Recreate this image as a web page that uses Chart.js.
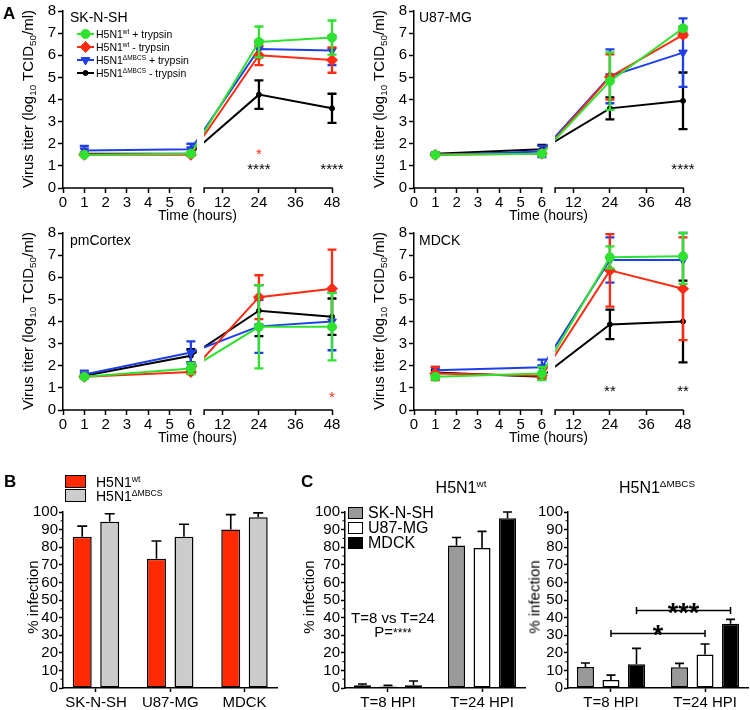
<!DOCTYPE html>
<html>
<head>
<meta charset="utf-8">
<title>H5N1 replication and infection</title>
<script src="https://cdn.jsdelivr.net/npm/chart.js@4.4.1/dist/chart.umd.min.js"></script>
<style>
  html,body{margin:0;padding:0;background:#fff;}
  #fig{position:relative;width:750px;height:710px;overflow:hidden;background:#fff;font-family:"Liberation Sans",Arial,Helvetica,sans-serif;color:#000;}
  #fig canvas{position:absolute;}
  .t{position:absolute;white-space:nowrap;line-height:1;}
  .rot{transform:translate(-50%,-50%) rotate(-90deg);}
  .ctr{transform:translate(-50%,-50%);}
  .vc{transform:translateY(-50%);}
  sub{font-size:66%;position:relative;top:0.32em;vertical-align:baseline;line-height:0;}
  sup{font-size:62%;position:relative;top:-0.62em;vertical-align:baseline;line-height:0;}
  .box{position:absolute;box-sizing:border-box;border:1.5px solid #000;}
  .bold{font-weight:bold;}
</style>
</head>
<body>
<div id="fig">
  <canvas id="cA1" width="360" height="225" style="left:0;top:0"></canvas>
  <canvas id="cA2" width="360" height="225" style="left:351px;top:0"></canvas>
  <canvas id="cA3" width="360" height="225" style="left:0;top:222px"></canvas>
  <canvas id="cA4" width="360" height="225" style="left:351px;top:222px"></canvas>
  <canvas id="cB" width="350" height="220" style="left:0;top:490px"></canvas>
  <canvas id="cC1" width="227" height="220" style="left:300px;top:490px"></canvas>
  <canvas id="cC2" width="227" height="220" style="left:523px;top:490px"></canvas>

  <!-- panel A text -->
  <div class="t bold" style="left:3px;top:5px;font-size:17px">A</div>
  <div class="t vc" style="left:70px;top:17px;font-size:14px">SK-N-SH</div>
  <div class="t vc" style="left:419px;top:17px;font-size:14px">U87-MG</div>
  <div class="t vc" style="left:70px;top:240px;font-size:14px">pmCortex</div>
  <div class="t vc" style="left:419px;top:240px;font-size:14px">MDCK</div>
  <div class="t rot" style="left:27px;top:99px;font-size:15px">Virus titer (log<sub>10</sub> TCID<sub>50</sub>/ml)</div>
  <div class="t rot" style="left:378px;top:99px;font-size:15px">Virus titer (log<sub>10</sub> TCID<sub>50</sub>/ml)</div>
  <div class="t rot" style="left:27px;top:321px;font-size:15px">Virus titer (log<sub>10</sub> TCID<sub>50</sub>/ml)</div>
  <div class="t rot" style="left:378px;top:321px;font-size:15px">Virus titer (log<sub>10</sub> TCID<sub>50</sub>/ml)</div>
  <div class="t vc" style="left:96px;top:34px;font-size:10.5px">H5N1<sup>wt</sup> + trypsin</div>
  <div class="t vc" style="left:96px;top:47px;font-size:10.5px">H5N1<sup>wt</sup> - trypsin</div>
  <div class="t vc" style="left:96px;top:60px;font-size:10.5px">H5N1<sup>ΔMBCS</sup> + trypsin</div>
  <div class="t vc" style="left:96px;top:73px;font-size:10.5px">H5N1<sup>ΔMBCS</sup> - trypsin</div>

  <!-- panel B text -->
  <div class="t bold" style="left:4px;top:473px;font-size:17px">B</div>
  <div class="box" style="left:65px;top:475px;width:21px;height:13px;background:#ff2a00"></div>
  <div class="box" style="left:65px;top:489px;width:21px;height:13px;background:#cccccc"></div>
  <div class="t vc" style="left:96px;top:482px;font-size:14px">H5N1<sup>wt</sup></div>
  <div class="t vc" style="left:96px;top:496px;font-size:14px">H5N1<sup>ΔMBCS</sup></div>
  <div class="t rot" style="left:32px;top:597px;font-size:15px">% infection</div>

  <!-- panel C text -->
  <div class="t bold" style="left:301px;top:473px;font-size:17px">C</div>
  <div class="t ctr" style="left:461px;top:488px;font-size:16px">H5N1<sup>wt</sup></div>
  <div class="t ctr" style="left:657px;top:488px;font-size:16px">H5N1<sup>ΔMBCS</sup></div>
  <div class="t rot" style="left:308px;top:597px;font-size:15px">% infection</div>
  <div class="t rot" style="left:534px;top:597px;font-size:15px">% infection</div>
  <div class="box" style="left:348px;top:507px;width:15px;height:12px;background:#999999"></div>
  <div class="box" style="left:348px;top:522px;width:15px;height:12px;background:#ffffff"></div>
  <div class="box" style="left:348px;top:537px;width:15px;height:12px;background:#000000"></div>
  <div class="t vc" style="left:368px;top:513px;font-size:16px">SK-N-SH</div>
  <div class="t vc" style="left:368px;top:528px;font-size:16px">U87-MG</div>
  <div class="t vc" style="left:368px;top:543px;font-size:16px">MDCK</div>
  <div class="t ctr" style="left:393px;top:617px;font-size:15px">T=8 vs T=24</div>
  <div class="t ctr" style="left:393px;top:631px;font-size:15px">P=<span style="font-size:12px">****</span></div>
</div>

<script>
// ---------------- data ----------------
const hours = [1, 6, 24, 48];
const timeTicks = [0, 1, 2, 3, 4, 5, 6, 12, 24, 36, 48];
const seriesLabels = ['H5N1wt + trypsin', 'H5N1wt - trypsin', 'H5N1ΔMBCS + trypsin', 'H5N1ΔMBCS - trypsin'];

// SK-N-SH
const sknWtTryp     = [1.50, 1.55, 6.60, 6.80];
const sknWtTrypSD   = [0.05, 0.05, 0.70, 0.77];
const sknWtNoTryp   = [1.50, 1.50, 6.00, 5.78];
const sknWtNoTrypSD = [0.05, 0.05, 0.45, 0.57];
const sknMutTryp    = [1.70, 1.75, 6.28, 6.22];
const sknMutTrypSD  = [0.20, 0.25, 0.38, 0.66];
const sknMutNoTryp  = [1.55, 1.55, 4.22, 3.60];
const sknMutNoTrypSD= [0.05, 0.05, 0.64, 0.66];
const sknStars = [[24, 1.68, '*', '#ff2a12'], [24, 1.0, '****', '#000'], [48, 1.0, '****', '#000']];

// U87-MG
const u87WtTryp     = [1.50, 1.55, 4.83, 7.22];
const u87WtTrypSD   = [0.05, 0.05, 1.30, 0.10];
const u87WtNoTryp   = [1.50, 1.55, 5.02, 6.92];
const u87WtNoTrypSD = [0.05, 0.05, 1.02, 0.10];
const u87MutTryp    = [1.50, 1.65, 5.05, 6.12];
const u87MutTrypSD  = [0.05, 0.25, 1.22, 1.55];
const u87MutNoTryp  = [1.55, 1.75, 3.60, 3.94];
const u87MutNoTrypSD= [0.05, 0.20, 0.50, 1.28];
const u87Stars = [[48, 1.0, '****', '#000']];

// pmCortex
const pmcWtTryp     = [1.50, 1.88, 3.76, 3.76];
const pmcWtTrypSD   = [0.05, 0.25, 1.88, 1.52];
const pmcWtNoTryp   = [1.50, 1.72, 5.10, 5.48];
const pmcWtNoTrypSD = [0.05, 0.10, 0.99, 1.77];
const pmcMutTryp    = [1.60, 2.60, 3.78, 4.00];
const pmcMutTrypSD  = [0.18, 0.50, 1.20, 1.30];
const pmcMutNoTryp  = [1.55, 2.45, 4.49, 4.22];
const pmcMutNoTrypSD= [0.05, 0.30, 1.15, 0.82];
const pmcStars = [[48, 0.75, '*', '#ff2a12']];

// MDCK
const mdckWtTryp     = [1.50, 1.65, 6.90, 6.95];
const mdckWtTrypSD   = [0.10, 0.30, 0.50, 1.25];
const mdckWtNoTryp   = [1.65, 1.55, 6.31, 5.48];
const mdckWtNoTrypSD = [0.30, 0.10, 1.64, 2.32];
const mdckMutTryp    = [1.80, 1.93, 6.78, 6.78];
const mdckMutTrypSD  = [0.15, 0.35, 1.02, 1.32];
const mdckMutNoTryp  = [1.70, 1.50, 3.87, 4.00];
const mdckMutNoTrypSD= [0.10, 0.10, 0.67, 1.85];
const mdckStars = [[24, 1.0, '**', '#000'], [48, 1.0, '**', '#000']];

// Panel B
const cellLines = ['SK-N-SH', 'U87-MG', 'MDCK'];
const virusLabels = ['H5N1wt', 'H5N1ΔMBCS'];
const infWt    = [86.0, 73.5, 90.0];
const infWtSD  = [6.0, 10.0, 8.5];
const infMut   = [94.5, 86.0, 97.0];
const infMutSD = [4.5, 7.0, 2.5];

// Panel C
const hpiLabels = ['T=8 HPI', 'T=24 HPI'];
const cWtSK     = [1.5, 81.0];  const cWtSKSD   = [0.8, 4.5];
const cWtU87    = [0.8, 79.5];  const cWtU87SD  = [0.7, 9.5];
const cWtMDCK   = [1.5, 96.5];  const cWtMDCKSD = [2.5, 3.5];
const cMutSK    = [12.0, 11.8]; const cMutSKSD  = [2.2, 2.2];
const cMutU87   = [4.5, 19.0];  const cMutU87SD = [2.8, 6.0];
const cMutMDCK  = [13.5, 36.5]; const cMutMDCKSD= [9.0, 2.5];
const sigDatasets = [1, 2];
const sigLevels = [31, 44];
const sigLabels = ['*', '***'];

// ---------------- styling ----------------
const FONT = "'Liberation Sans', Arial, Helvetica, sans-serif";
const GREEN = '#2fe22f', RED = '#ff2a12', BLUE = '#1f3fe6', BLACK = '#000000';
Chart.defaults.font.family = FONT;
Chart.defaults.color = '#000';
Chart.defaults.animation = false;

const AXIS_GAP = 0.62;      // break between the two time segments (in left-segment hour units)
const RIGHT_COMPRESS = 7;   // right segment hours per left-segment unit

class BrokenTimeScale extends Chart.LinearScale {
  static id = 'brokenTime';
  static defaults = {};
  buildTicks() { return timeTicks.map(v => ({ value: v })); }
  uOf(t) { return t <= 6 ? t : 6 + AXIS_GAP + (t - 6) / RIGHT_COMPRESS; }
  getPixelForValue(value) { return this.getPixelForDecimal(this.uOf(value) / this.uOf(this.max)); }
  getValueForPixel(pixel) {
    const u = this.getDecimalForPixel(pixel) * this.uOf(this.max);
    return u <= 6 ? u : 6 + (u - 6 - AXIS_GAP) * RIGHT_COMPRESS;
  }
  rightStartPixel() { return this.getPixelForDecimal((6 + AXIS_GAP) / this.uOf(this.max)); }
}
Chart.register(BrokenTimeScale);

function drawErrorBars(ctx, meta, yScale, values, errs, color, capHalf, lw, upOnly) {
  ctx.save();
  ctx.strokeStyle = color;
  ctx.lineWidth = lw;
  ctx.lineCap = 'butt';
  meta.data.forEach((el, i) => {
    const v = values[i], e = errs[i];
    const yTop = yScale.getPixelForValue(Math.min(v + e, yScale.max));
    const yBot = upOnly ? el.y : yScale.getPixelForValue(Math.max(v - e, yScale.min));
    ctx.beginPath();
    ctx.moveTo(el.x, yTop); ctx.lineTo(el.x, yBot);
    ctx.moveTo(el.x - capHalf, yTop); ctx.lineTo(el.x + capHalf, yTop);
    if (!upOnly) { ctx.moveTo(el.x - capHalf, yBot); ctx.lineTo(el.x + capHalf, yBot); }
    ctx.stroke();
  });
  ctx.restore();
}

const seriesStyles = [
  { color: GREEN, pointStyle: 'circle',  radius: 4.5, rotation: 0 },
  { color: RED,   pointStyle: 'rectRot', radius: 5.5, rotation: 0 },
  { color: BLUE,  pointStyle: 'triangle',radius: 5,   rotation: 180 },
  { color: BLACK, pointStyle: 'circle',  radius: 2.5, rotation: 0 }
];

function titerPlugin(stars, withLegend) {
  return {
    id: 'titerExtras',
    beforeDatasetsDraw(chart) {
      const xs = chart.scales.x, ctx = chart.ctx;
      const g0 = xs.getPixelForValue(6) + 6, g1 = xs.rightStartPixel();
      ctx.save();
      ctx.beginPath();
      ctx.rect(0, 0, g0, chart.height);
      ctx.rect(g1, 0, chart.width - g1, chart.height);
      ctx.clip();
    },
    beforeDatasetDraw(chart, args) {
      const ds = chart.data.datasets[args.index];
      drawErrorBars(chart.ctx, args.meta, chart.scales.y, ds.data.map(p => p.y), ds.errors, ds.borderColor, 4.5, 2.3, false);
    },
    afterDatasetsDraw(chart) { chart.ctx.restore(); },
    afterDraw(chart) {
      const xs = chart.scales.x, ys = chart.scales.y, ctx = chart.ctx, ca = chart.chartArea;
      const yb = ca.bottom, g1 = xs.rightStartPixel();
      ctx.save();
      ctx.strokeStyle = '#000'; ctx.lineWidth = 1.5;
      ctx.beginPath();
      ctx.moveTo(xs.getPixelForValue(0) - 0.75, yb); ctx.lineTo(xs.getPixelForValue(6) + 0.75, yb);
      ctx.moveTo(g1 - 0.75, yb); ctx.lineTo(xs.getPixelForValue(48) + 0.75, yb);
      ctx.moveTo(g1, yb); ctx.lineTo(g1, yb + 5);
      ctx.stroke();
      ctx.textAlign = 'center'; ctx.textBaseline = 'alphabetic';
      ctx.font = '15px ' + FONT;
      stars.forEach(([h, v, txt, col]) => {
        ctx.fillStyle = col;
        ctx.fillText(txt, xs.getPixelForValue(h), ys.getPixelForValue(v) + 8.5);
      });
      if (withLegend) {
        const rows = [34, 47, 60, 73];
        chart.data.datasets.forEach((ds, k) => {
          const st = seriesStyles[k], y = rows[k];
          ctx.strokeStyle = st.color; ctx.fillStyle = st.color; ctx.lineWidth = 2;
          ctx.beginPath(); ctx.moveTo(77, y); ctx.lineTo(94, y); ctx.stroke();
          ctx.lineWidth = 1;
          Chart.helpers.drawPoint(ctx, { pointStyle: st.pointStyle, radius: st.radius, rotation: st.rotation, borderWidth: 1 }, 85.5, y);
        });
      }
      ctx.restore();
    }
  };
}

function titerChart(id, series, errors, stars, withLegend) {
  const datasets = series.map((vals, k) => ({
    label: seriesLabels[k],
    data: hours.map((h, i) => ({ x: h, y: vals[i] })),
    errors: errors[k],
    borderColor: seriesStyles[k].color,
    backgroundColor: seriesStyles[k].color,
    pointStyle: seriesStyles[k].pointStyle,
    pointRadius: seriesStyles[k].radius,
    pointRotation: seriesStyles[k].rotation,
    pointBorderWidth: 1,
    borderWidth: 2,
    tension: 0,
    clip: false
  }));
  return new Chart(document.getElementById(id), {
    type: 'line',
    data: { datasets },
    options: {
      responsive: false, animation: false, devicePixelRatio: 1,
      layout: { padding: { left: 0, top: 10, right: 28, bottom: 0 } },
      plugins: { legend: { display: false }, tooltip: { enabled: false } },
      scales: {
        x: {
          type: 'brokenTime', min: 0, max: 48,
          grid: { drawOnChartArea: false, tickLength: 5, tickWidth: 1.5, tickColor: '#000' },
          border: { display: false },
          ticks: { autoSkip: false, maxRotation: 0, font: { size: 15 }, color: '#000', padding: 1, callback: v => String(v) },
          title: { display: true, text: 'Time (hours)', font: { size: 14 }, color: '#000', padding: { top: 0, bottom: 0 } },
          afterFit(s) { s.height = 37; }
        },
        y: {
          min: 0, max: 8,
          ticks: { stepSize: 1, autoSkip: false, font: { size: 15 }, color: '#000', padding: 2 },
          grid: { drawOnChartArea: false, tickLength: 5, tickWidth: 1.5, tickColor: '#000' },
          border: { color: '#000', width: 1.5 },
          afterFit(s) { s.width = 63; }
        }
      }
    },
    plugins: [titerPlugin(stars, withLegend)]
  });
}

titerChart('cA1', [sknWtTryp, sknWtNoTryp, sknMutTryp, sknMutNoTryp],
  [sknWtTrypSD, sknWtNoTrypSD, sknMutTrypSD, sknMutNoTrypSD], sknStars, true);
titerChart('cA2', [u87WtTryp, u87WtNoTryp, u87MutTryp, u87MutNoTryp],
  [u87WtTrypSD, u87WtNoTrypSD, u87MutTrypSD, u87MutNoTrypSD], u87Stars, false);
titerChart('cA3', [pmcWtTryp, pmcWtNoTryp, pmcMutTryp, pmcMutNoTryp],
  [pmcWtTrypSD, pmcWtNoTrypSD, pmcMutTrypSD, pmcMutNoTrypSD], pmcStars, false);
titerChart('cA4', [mdckWtTryp, mdckWtNoTryp, mdckMutTryp, mdckMutNoTryp],
  [mdckWtTrypSD, mdckWtNoTrypSD, mdckMutTrypSD, mdckMutNoTrypSD], mdckStars, false);

// ---------------- bar panels ----------------
function barPlugin(brackets) {
  return {
    id: 'barExtras',
    afterDatasetDraw(chart, args) {
      const ds = chart.data.datasets[args.index];
      drawErrorBars(chart.ctx, args.meta, chart.scales.y, ds.data.map(p => p.y), ds.errors, '#000', ds.capHalf, 1.6, true);
    },
    afterDraw(chart) {
      const ys = chart.scales.y, ctx = chart.ctx, ca = chart.chartArea;
      ctx.save();
      ctx.strokeStyle = '#000'; ctx.lineWidth = 1;
      ctx.beginPath();
      for (let v = ys.min + 5; v < ys.max; v += 10) {
        const y = ys.getPixelForValue(v);
        ctx.moveTo(ca.left, y); ctx.lineTo(ca.left - 2.5, y);
      }
      ctx.stroke();
      if (brackets) {
        ctx.lineWidth = 1.5;
        ctx.fillStyle = '#000';
        ctx.textAlign = 'center'; ctx.textBaseline = 'alphabetic';
        ctx.font = 'bold 27px ' + FONT;
        brackets.datasets.forEach((dsIndex, k) => {
          const meta = chart.getDatasetMeta(dsIndex);
          const x1 = meta.data[0].x, x2 = meta.data[1].x;
          const y = ys.getPixelForValue(brackets.levels[k]);
          ctx.beginPath();
          ctx.moveTo(x1, y); ctx.lineTo(x2, y);
          ctx.moveTo(x1, y - 3.5); ctx.lineTo(x1, y + 3.5);
          ctx.moveTo(x2, y - 3.5); ctx.lineTo(x2, y + 3.5);
          ctx.stroke();
          ctx.fillText(brackets.labels[k], (x1 + x2) / 2, y + 11);
        });
      }
      ctx.restore();
    }
  };
}

function barChart(id, categories, xmin, xmax, datasets, padding, yWidth, brackets) {
  return new Chart(document.getElementById(id), {
    type: 'bar',
    data: { datasets },
    options: {
      responsive: false, animation: false, devicePixelRatio: 1,
      layout: { padding },
      plugins: { legend: { display: false }, tooltip: { enabled: false } },
      scales: {
        x: {
          type: 'linear', min: xmin, max: xmax, offset: false,
          afterBuildTicks(s) { s.ticks = categories.map((_, i) => ({ value: i })); },
          ticks: { autoSkip: false, maxRotation: 0, font: { size: 15 }, color: '#000', padding: 2, callback: v => categories[v] },
          grid: { drawOnChartArea: false, offset: false, tickLength: 4, tickWidth: 1.5, tickColor: '#000' },
          border: { color: '#000', width: 1.5 },
          afterFit(s) { s.height = 22; }
        },
        y: {
          min: 0, max: 100,
          ticks: { stepSize: 10, autoSkip: false, font: { size: 15 }, color: '#000', padding: 1 },
          grid: { drawOnChartArea: false, tickLength: 4, tickWidth: 1.5, tickColor: '#000' },
          border: { color: '#000', width: 1.5 },
          afterFit(s) { s.width = yWidth; }
        }
      }
    },
    plugins: [barPlugin(brackets)]
  });
}

function barSet(label, vals, errs, color, catPct, barPct, capHalf) {
  return {
    label, data: vals.map((v, i) => ({ x: i, y: v })), errors: errs, capHalf,
    backgroundColor: color, borderColor: '#000', borderWidth: 1.5, borderSkipped: false,
    categoryPercentage: catPct, barPercentage: barPct
  };
}

barChart('cB', cellLines, -0.444, 2.438, [
  barSet(virusLabels[0], infWt, infWtSD, '#ff2a00', 0.74, 0.69, 5),
  barSet(virusLabels[1], infMut, infMutSD, '#cccccc', 0.74, 0.69, 5)
], { left: 0, top: 22, right: 73, bottom: 0 }, 63, null);

barChart('cC1', hpiLabels, -0.457, 1.457, [
  barSet(cellLines[0], cWtSK, cWtSKSD, '#999999', 0.814, 0.667, 4.5),
  barSet(cellLines[1], cWtU87, cWtU87SD, '#ffffff', 0.814, 0.667, 4.5),
  barSet(cellLines[2], cWtMDCK, cWtMDCKSD, '#000000', 0.814, 0.667, 4.5)
], { left: 0, top: 22, right: 2, bottom: 0 }, 45, null);

barChart('cC2', hpiLabels, -0.457, 1.457, [
  barSet(cellLines[0], cMutSK, cMutSKSD, '#999999', 0.814, 0.667, 4.5),
  barSet(cellLines[1], cMutU87, cMutU87SD, '#ffffff', 0.814, 0.667, 4.5),
  barSet(cellLines[2], cMutMDCK, cMutMDCKSD, '#000000', 0.814, 0.667, 4.5)
], { left: 0, top: 22, right: 2, bottom: 0 }, 45, { datasets: sigDatasets, levels: sigLevels, labels: sigLabels });
</script>
</body>
</html>
